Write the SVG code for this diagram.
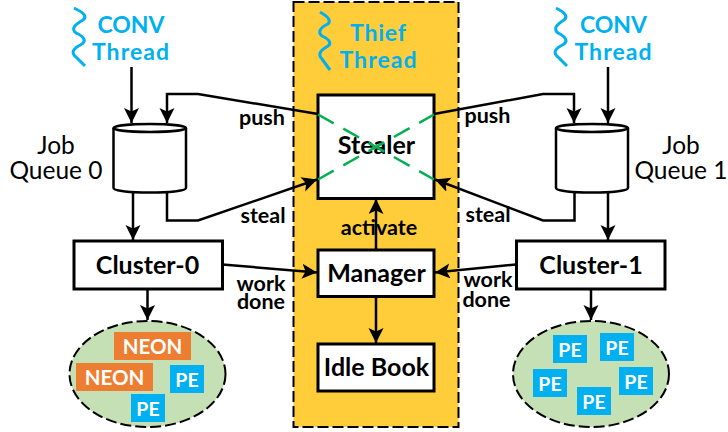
<svg xmlns="http://www.w3.org/2000/svg" width="728" height="432" viewBox="0 0 728 432">
<style>
text{font-family:"Lato","Carlito","Liberation Sans",sans-serif;text-anchor:middle}
.b{font-weight:700;fill:#000;font-size:21.5px}
.n{font-weight:700;fill:#000;font-size:25px}
.r{fill:#000;font-size:24.5px}
.c{font-weight:700;fill:#00b0f0;font-size:23px}
.w{font-weight:700;fill:#fff;font-size:20.500px}
.p{font-weight:700;fill:#fff;font-size:19.500px}
.box{fill:#fff;stroke:#000;stroke-width:3}
.cyl{fill:#fff;stroke:#000;stroke-width:2.5}
.oval{fill:#c5e0b4;stroke:#000;stroke-width:2;stroke-dasharray:11 4}
.sq{fill:none;stroke:#00b0f0;stroke-width:3;stroke-linejoin:round}
.ln{fill:none;stroke:#000;stroke-width:2.5;stroke-linejoin:miter}
.ar{marker-end:url(#a)}
.x{fill:none;stroke:#00b050;stroke-width:2.5;stroke-dasharray:18 11}
.ne{fill:#ed7d31}.pe{fill:#00b0f0}
</style>
<defs><marker id="a" markerUnits="userSpaceOnUse" markerWidth="16" markerHeight="16" refX="15" refY="7.5" orient="auto"><path d="M0 0L15 7.5L0 15L3.5 7.5Z" fill="#000"/></marker></defs>
<g id="thief-region"><rect x="293.5" y="2" width="165" height="425" fill="#ffcc3a" stroke="#000" stroke-width="2" stroke-dasharray="11 4"/></g>
<g id="conv-thread-0"><path class="sq" d="M74 8C85 13 87 17 83 20C74 25 71 29 76 33C85 37 86 41 82 44C72 49 71 53 76 57L85 66"/><text class="c" x="131" y="33">CONV</text><text class="c" x="130.500" y="60" textLength="77">Thread</text></g>
<g id="conv-thread-1"><path class="sq" d="M556 8C566 13 568 17 564 20C556 25 553 29 558 33C566 37 568 41 564 44C554 49 553 53 558 57L567 66"/><text class="c" x="613.500" y="33">CONV</text><text class="c" x="613" y="60" textLength="77">Thread</text></g>
<g id="thief-thread"><path class="sq" d="M320 12C329 17 331 21 328 24C319 28 318 33 322 36C331 40 331 44 328 46C319 51 318 55 322 59L330 70"/><text class="c" x="378" y="41" textLength="56">Thief</text><text class="c" x="378" y="68" textLength="77">Thread</text></g>
<g id="queue-0"><path class="cyl" d="M113.500 128V188C113.500 194 186 194 186 188V128"/><ellipse class="cyl" cx="149.750" cy="128" rx="36.250" ry="4"/><text class="r" x="56" y="154">Job</text><text class="r" x="56" y="179">Queue 0</text></g>
<g id="queue-1"><path class="cyl" d="M556 128V188C556 194 628 194 628 188V128"/><ellipse class="cyl" cx="592" cy="128" rx="36" ry="4"/><text class="r" x="681" y="154">Job</text><text class="r" x="681" y="179">Queue 1</text></g>
<g id="stealer"><rect class="box" x="318" y="95" width="116" height="103.500"/><text class="n" x="376.500" y="154">Stealer</text></g>
<g id="manager"><rect class="box" x="318" y="250" width="116" height="46.500"/><text class="n" x="376.500" y="281.500">Manager</text></g>
<g id="idle-book"><rect class="box" x="318" y="344" width="116" height="47"/><text class="n" x="376.500" y="375.500">Idle Book</text></g>
<g id="cluster-0"><rect class="box" x="74" y="241" width="148.500" height="48"/><text class="n" x="147.500" y="274">Cluster-0</text></g>
<g id="cluster-1"><rect class="box" x="516.500" y="241" width="148.500" height="48"/><text class="n" x="591" y="274">Cluster-1</text></g>
<g id="pe-group-0"><ellipse class="oval" cx="147.500" cy="374" rx="78" ry="53"/>
<rect class="ne" x="114" y="332" width="77" height="28"/><text class="w" x="152.500" y="354">NEON</text>
<rect class="ne" x="76" y="363" width="77" height="28"/><text class="w" x="114.500" y="385">NEON</text>
<rect class="pe" x="170" y="365" width="34" height="28"/><text class="p" x="187" y="387">PE</text>
<rect class="pe" x="131" y="394" width="34" height="28"/><text class="p" x="148" y="416">PE</text></g>
<g id="pe-group-1"><ellipse class="oval" cx="591" cy="374" rx="78" ry="53"/>
<rect class="pe" x="553" y="335" width="34" height="28"/><text class="p" x="570" y="357">PE</text>
<rect class="pe" x="600" y="333" width="34" height="28"/><text class="p" x="617" y="355">PE</text>
<rect class="pe" x="533" y="369" width="34" height="28"/><text class="p" x="550" y="391">PE</text>
<rect class="pe" x="619" y="367" width="34" height="28"/><text class="p" x="636" y="389">PE</text>
<rect class="pe" x="577" y="387" width="34" height="28"/><text class="p" x="594" y="409">PE</text></g>
<g id="connectors">
<path class="ln ar" d="M131.500 67V123"/>
<path class="ln ar" d="M608 67V123"/>
<path class="ln ar" d="M318 114L198 94H167V123"/>
<path class="ln ar" d="M434 114L543 94H574V123"/>
<path class="ln ar" d="M167 193V220.500H198L317 179.500"/>
<path class="ln ar" d="M574.500 193V220.500H543L435 179.500"/>
<path class="ln ar" d="M133 193V240"/>
<path class="ln ar" d="M608 193V240"/>
<path class="ln ar" d="M147.500 289V320"/>
<path class="ln ar" d="M591 289V320"/>
<path class="ln ar" d="M376 250V199"/>
<path class="ln ar" d="M376 296.500V343"/>
<path class="ln ar" d="M222.500 264.500L317 272.500"/>
<path class="ln ar" d="M516 264.500L435 272.500"/>
<path class="x" d="M318 114.500L434 179.500M318 179.500L434 114.500"/>
</g>
<g id="labels">
<text class="b" x="262" y="125">push</text><text class="b" x="263" y="223">steal</text>
<text class="b" x="487.500" y="123">push</text><text class="b" x="488" y="222">steal</text>
<text class="b" x="379" y="235">activate</text>
<text class="b" x="261" y="291">work</text><text class="b" x="261" y="309">done</text>
<text class="b" x="488" y="287">work</text><text class="b" x="486.500" y="307">done</text>
</g>
</svg>
